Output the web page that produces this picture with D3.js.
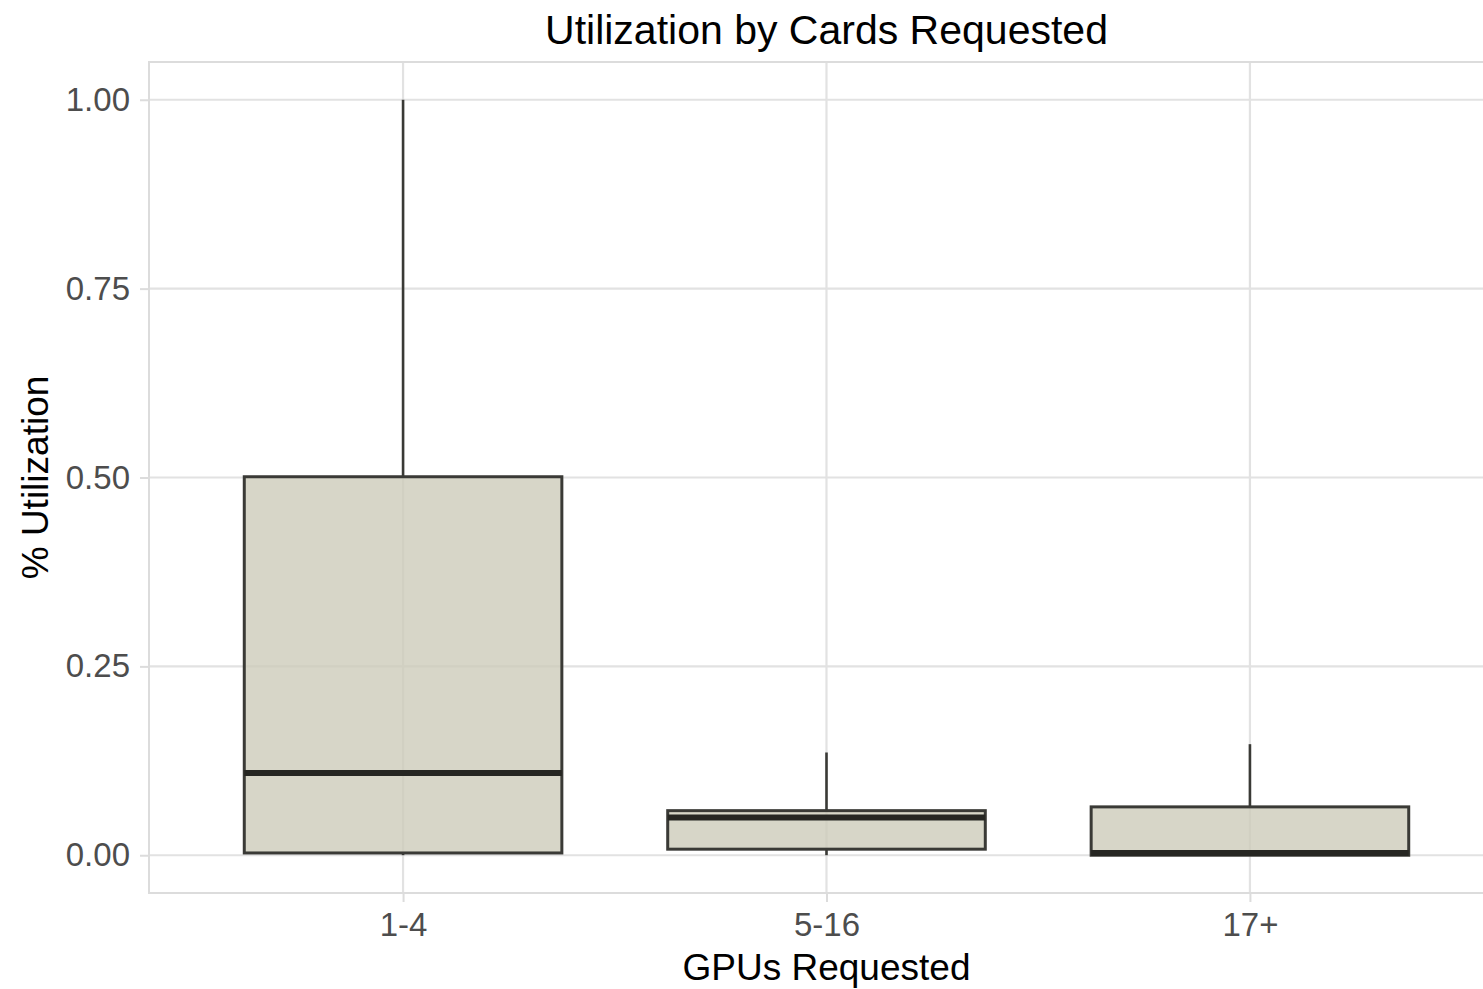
<!DOCTYPE html>
<html>
<head>
<meta charset="utf-8">
<script src="https://cdn.jsdelivr.net/npm/d3@7"></script>
<style>
  html, body { margin: 0; padding: 0; background: #fff; }
  svg { display: block; }
  text { font-family: "Liberation Sans", Arial, Helvetica, sans-serif; }
</style>
</head>
<body>
<svg id="chart" width="1483" height="989"></svg>
<script>
// ---- data ----
const categories = ["1-4", "5-16", "17+"];
const whiskerLow = [0.000, 0.000, 0.000];
const q1Values = [0.003, 0.008, 0.000];
const medianValues = [0.109, 0.050, 0.003];
const q3Values = [0.501, 0.059, 0.064];
const whiskerHigh = [1.000, 0.136, 0.147];
const yTickValues = [0, 0.25, 0.5, 0.75, 1.0];
const titleText = "Utilization by Cards Requested";
const xTitle = "GPUs Requested";
const yTitle = "% Utilization";

// ---- layout ----
const W = 1483, H = 989;
const panel = { left: 149, right: 1504, top: 62, bottom: 893 };

const svg = d3.select("#chart");

const x = d3.scalePoint()
  .domain(categories)
  .range([panel.left, panel.right])
  .padding(0.6);
const step = x.step();
const boxW = step * 0.75;

const y = d3.scaleLinear()
  .domain([-0.05, 1.05])
  .range([panel.bottom, panel.top]);

const gridColor = "#e2e2e2";
const borderColor = "#dcdcdc";

// grid lines
const grid = svg.append("g");
grid.selectAll("line.hy").data(yTickValues).join("line")
  .attr("x1", panel.left).attr("x2", panel.right)
  .attr("y1", d => y(d)).attr("y2", d => y(d))
  .attr("stroke", gridColor).attr("stroke-width", 2.2);
grid.selectAll("line.vx").data(categories).join("line")
  .attr("y1", panel.top).attr("y2", panel.bottom)
  .attr("x1", d => x(d)).attr("x2", d => x(d))
  .attr("stroke", gridColor).attr("stroke-width", 2.2);

// data rows
const rows = categories.map((c, i) => ({
  cat: c, lo: whiskerLow[i], q1: q1Values[i], med: medianValues[i],
  q3: q3Values[i], hi: whiskerHigh[i]
}));

const boxes = svg.append("g");
const strokeCol = "#3a3a36";
// whiskers
boxes.selectAll("line.wu").data(rows).join("line")
  .attr("x1", d => x(d.cat)).attr("x2", d => x(d.cat))
  .attr("y1", d => y(d.q3)).attr("y2", d => y(d.hi))
  .attr("stroke", strokeCol).attr("stroke-width", 2.6);
boxes.selectAll("line.wl").data(rows).join("line")
  .attr("x1", d => x(d.cat)).attr("x2", d => x(d.cat))
  .attr("y1", d => y(d.q1)).attr("y2", d => y(d.lo))
  .attr("stroke", strokeCol).attr("stroke-width", 2.6);
// boxes
boxes.selectAll("rect").data(rows).join("rect")
  .attr("x", d => x(d.cat) - boxW / 2)
  .attr("width", boxW)
  .attr("y", d => y(d.q3))
  .attr("height", d => y(d.q1) - y(d.q3))
  .attr("fill", "rgb(204,202,184)")
  .attr("fill-opacity", 0.78)
  .attr("stroke", strokeCol)
  .attr("stroke-width", 3);
// medians
boxes.selectAll("line.med").data(rows).join("line")
  .attr("x1", d => x(d.cat) - boxW / 2).attr("x2", d => x(d.cat) + boxW / 2)
  .attr("y1", d => y(d.med)).attr("y2", d => y(d.med))
  .attr("stroke", "#262622").attr("stroke-width", 6);

// panel border
svg.append("rect")
  .attr("x", panel.left).attr("y", panel.top)
  .attr("width", panel.right - panel.left)
  .attr("height", panel.bottom - panel.top)
  .attr("fill", "none")
  .attr("stroke", borderColor)
  .attr("stroke-width", 2);

// axes
const yAxis = d3.axisLeft(y)
  .tickValues(yTickValues)
  .tickFormat(d3.format(".2f"))
  .tickSize(9)
  .tickPadding(10);
const gy = svg.append("g")
  .attr("transform", `translate(${panel.left},0)`)
  .call(yAxis);
gy.select(".domain").remove();
gy.selectAll(".tick line").attr("stroke", borderColor).attr("stroke-width", 2);
gy.selectAll(".tick text")
  .attr("fill", "#4d4d4d")
  .style("font-size", "33px")
  .style("font-family", "'Liberation Sans', Arial, sans-serif");

const xAxis = d3.axisBottom(x)
  .tickSize(9)
  .tickPadding(11);
const gx = svg.append("g")
  .attr("transform", `translate(0,${panel.bottom})`)
  .call(xAxis);
gx.select(".domain").remove();
gx.selectAll(".tick line").attr("stroke", borderColor).attr("stroke-width", 2);
gx.selectAll(".tick text")
  .attr("fill", "#4d4d4d")
  .style("font-size", "33px")
  .style("font-family", "'Liberation Sans', Arial, sans-serif");

// titles
const panelCenterX = (panel.left + panel.right) / 2;
svg.append("text")
  .attr("x", panelCenterX).attr("y", 44)
  .attr("text-anchor", "middle")
  .attr("fill", "#000")
  .style("font-size", "41px")
  .text(titleText);

svg.append("text")
  .attr("x", panelCenterX).attr("y", 980)
  .attr("text-anchor", "middle")
  .attr("fill", "#000")
  .style("font-size", "37px")
  .text(xTitle);

svg.append("text")
  .attr("transform", `translate(48,${(panel.top + panel.bottom) / 2}) rotate(-90)`)
  .attr("text-anchor", "middle")
  .attr("fill", "#000")
  .style("font-size", "37px")
  .text(yTitle);
</script>
</body>
</html>
